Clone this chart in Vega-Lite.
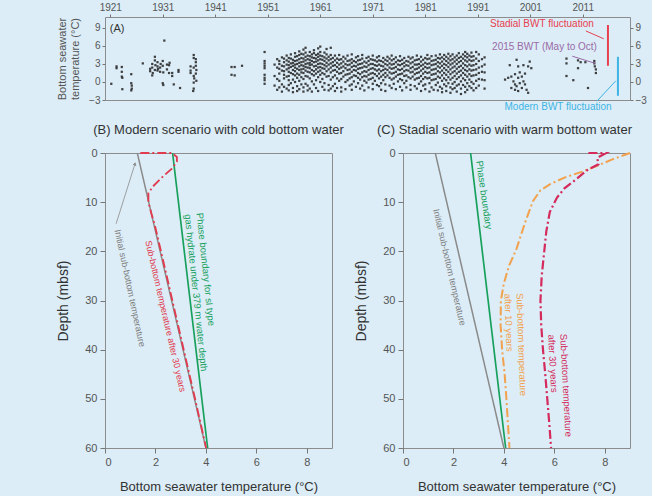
{
"$schema": "https://vega.github.io/schema/vega-lite/v6.json",
"background": "#dcedf7",
"padding": {"left": 56, "top": 1, "right": 5, "bottom": 2},
"config": {
 "font": "Liberation Sans",
 "view": {"stroke": "#8c8c8c", "strokeWidth": 1},
 "axis": {"labelFont": "Liberation Sans", "titleFont": "Liberation Sans", "labelColor": "#555", "tickColor": "#777", "domainColor": "#8c8c8c", "grid": false, "titleFontWeight": "normal", "titleColor": "#333"},
 "title": {"font": "Liberation Sans", "fontWeight": "normal", "color": "#333"}
},
"datasets": {
 "pts": [
{"yr":1921.2,"t":-0.3},{"yr":1922.2,"t":2.6},{"yr":1922.2,"t":2.3},{"yr":1923.2,"t":2.5},{"yr":1923.2,"t":1.7},{"yr":1923.2,"t":0.9},{"yr":1923.3,"t":0.7},{"yr":1923.3,"t":-1.2},{"yr":1925.0,"t":1.3},{"yr":1925.0,"t":-0.2},{"yr":1925.1,"t":-0.6},{"yr":1925.1,"t":-1.1},{"yr":1925.0,"t":-1.4},{"yr":1927.2,"t":3.1},{"yr":1928.6,"t":2.2},{"yr":1928.6,"t":1.8},{"yr":1929.0,"t":3.0},{"yr":1929.0,"t":2.4},{"yr":1929.1,"t":1.5},{"yr":1929.0,"t":1.1},{"yr":1929.5,"t":4.2},{"yr":1929.5,"t":3.6},{"yr":1929.6,"t":2.8},{"yr":1929.5,"t":2.0},{"yr":1930.0,"t":2.6},{"yr":1930.1,"t":2.2},{"yr":1930.0,"t":1.9},{"yr":1930.0,"t":3.3},{"yr":1930.5,"t":2.4},{"yr":1930.5,"t":1.7},{"yr":1930.6,"t":3.0},{"yr":1931.0,"t":3.5},{"yr":1931.0,"t":2.7},{"yr":1931.1,"t":1.6},{"yr":1931.0,"t":-0.2},{"yr":1931.1,"t":-0.5},{"yr":1931.3,"t":6.9},{"yr":1931.8,"t":2.9},{"yr":1931.8,"t":2.1},{"yr":1932.2,"t":1.5},{"yr":1932.2,"t":2.8},{"yr":1932.3,"t":3.2},{"yr":1932.8,"t":1.5},{"yr":1932.8,"t":1.0},{"yr":1933.1,"t":-0.4},{"yr":1934.0,"t":2.0},{"yr":1934.0,"t":1.7},{"yr":1934.3,"t":-1.0},{"yr":1936.3,"t":2.6},{"yr":1936.3,"t":1.9},{"yr":1936.3,"t":1.5},{"yr":1936.9,"t":4.5},{"yr":1936.9,"t":4.0},{"yr":1936.9,"t":2.4},{"yr":1936.9,"t":1.0},{"yr":1937.0,"t":0.6},{"yr":1936.9,"t":-0.1},{"yr":1936.9,"t":-1.1},{"yr":1936.8,"t":-1.5},{"yr":1937.3,"t":3.8},{"yr":1937.3,"t":3.3},{"yr":1937.3,"t":2.7},{"yr":1937.4,"t":2.0},{"yr":1937.3,"t":1.4},{"yr":1937.4,"t":0.2},{"yr":1944.1,"t":2.5},{"yr":1944.1,"t":1.2},{"yr":1944.7,"t":2.5},{"yr":1944.7,"t":1.1},{"yr":1946.1,"t":2.7},
{"yr":1950.4,"t":5.0},{"yr":1950.4,"t":3.5},{"yr":1950.4,"t":3.1},{"yr":1950.4,"t":2.7},{"yr":1950.4,"t":2.3},{"yr":1950.4,"t":1.2},{"yr":1950.4,"t":0.7},{"yr":1950.4,"t":0.3},{"yr":1950.4,"t":-0.3},
{"yr":1952.3,"t":2.9},{"yr":1952.3,"t":1.0},{"yr":1952.3,"t":-0.6},{"yr":1952.8,"t":3.8},{"yr":1952.8,"t":2.4},{"yr":1952.8,"t":0.5},{"yr":1952.8,"t":-1.3},
{"yr":1953.2,"t":3.5},{"yr":1953.2,"t":3.0},{"yr":1953.2,"t":2.2},{"yr":1953.2,"t":1.4},{"yr":1953.2,"t":0.2},{"yr":1953.2,"t":-0.9},
{"yr":1953.7,"t":4.1},{"yr":1953.7,"t":2.7},{"yr":1953.7,"t":1.9},{"yr":1953.7,"t":-0.4},{"yr":1953.7,"t":-1.6},
{"yr":1954.1,"t":3.9},{"yr":1954.1,"t":3.3},{"yr":1954.1,"t":2.6},{"yr":1954.1,"t":1.8},{"yr":1954.1,"t":1.2},{"yr":1954.1,"t":0.6},{"yr":1954.1,"t":-0.8},
{"yr":1954.6,"t":4.4},{"yr":1954.6,"t":3.6},{"yr":1954.6,"t":2.9},{"yr":1954.6,"t":2.1},{"yr":1954.6,"t":0.9},{"yr":1954.6,"t":-1.1},
{"yr":1955.0,"t":4.0},{"yr":1955.0,"t":3.4},{"yr":1955.0,"t":2.8},{"yr":1955.0,"t":2.3},{"yr":1955.0,"t":1.7},{"yr":1955.0,"t":1.0},{"yr":1955.0,"t":0.3},{"yr":1955.0,"t":-0.5},{"yr":1955.0,"t":-1.4},
{"yr":1955.4,"t":4.6},{"yr":1955.4,"t":3.9},{"yr":1955.4,"t":3.1},{"yr":1955.4,"t":2.5},{"yr":1955.4,"t":1.5},{"yr":1955.4,"t":-0.2},
{"yr":1955.8,"t":3.7},{"yr":1955.8,"t":3.2},{"yr":1955.8,"t":2.7},{"yr":1955.8,"t":2.0},{"yr":1955.8,"t":1.3},{"yr":1955.8,"t":0.4},{"yr":1955.8,"t":-1.0},{"yr":1955.8,"t":-1.7},
{"yr":1956.2,"t":4.8},{"yr":1956.2,"t":4.2},{"yr":1956.2,"t":3.5},{"yr":1956.2,"t":2.9},{"yr":1956.2,"t":2.4},{"yr":1956.2,"t":1.8},{"yr":1956.2,"t":1.1},{"yr":1956.2,"t":0.0},
{"yr":1956.6,"t":4.3},{"yr":1956.6,"t":3.6},{"yr":1956.6,"t":3.0},{"yr":1956.6,"t":2.2},{"yr":1956.6,"t":1.4},{"yr":1956.6,"t":0.7},{"yr":1956.6,"t":-0.7},{"yr":1956.6,"t":-1.5},
{"yr":1957.0,"t":5.1},{"yr":1957.0,"t":4.5},{"yr":1957.0,"t":3.8},{"yr":1957.0,"t":3.2},{"yr":1957.0,"t":2.6},{"yr":1957.0,"t":2.0},{"yr":1957.0,"t":1.2},{"yr":1957.0,"t":0.2},{"yr":1957.0,"t":-1.2},
{"yr":1957.4,"t":4.7},{"yr":1957.4,"t":4.0},{"yr":1957.4,"t":3.3},{"yr":1957.4,"t":2.8},{"yr":1957.4,"t":2.1},{"yr":1957.4,"t":1.6},{"yr":1957.4,"t":0.8},{"yr":1957.4,"t":-0.4},
{"yr":1957.8,"t":5.4},{"yr":1957.8,"t":4.6},{"yr":1957.8,"t":3.9},{"yr":1957.8,"t":3.4},{"yr":1957.8,"t":2.7},{"yr":1957.8,"t":2.2},{"yr":1957.8,"t":1.5},{"yr":1957.8,"t":0.5},{"yr":1957.8,"t":-0.9},{"yr":1957.8,"t":-1.6},
{"yr":1958.2,"t":5.7},{"yr":1958.2,"t":4.9},{"yr":1958.2,"t":4.2},{"yr":1958.2,"t":3.6},{"yr":1958.2,"t":3.0},{"yr":1958.2,"t":2.5},{"yr":1958.2,"t":1.9},{"yr":1958.2,"t":1.0},{"yr":1958.2,"t":-0.3},
{"yr":1958.6,"t":4.4},{"yr":1958.6,"t":3.8},{"yr":1958.6,"t":3.1},{"yr":1958.6,"t":2.4},{"yr":1958.6,"t":1.7},{"yr":1958.6,"t":0.9},{"yr":1958.6,"t":-0.6},{"yr":1958.6,"t":-1.4},
{"yr":1959.0,"t":5.0},{"yr":1959.0,"t":4.3},{"yr":1959.0,"t":3.7},{"yr":1959.0,"t":3.2},{"yr":1959.0,"t":2.8},{"yr":1959.0,"t":2.3},{"yr":1959.0,"t":1.6},{"yr":1959.0,"t":0.6},{"yr":1959.0,"t":-1.1},
{"yr":1959.4,"t":4.6},{"yr":1959.4,"t":4.1},{"yr":1959.4,"t":3.5},{"yr":1959.4,"t":2.9},{"yr":1959.4,"t":2.0},{"yr":1959.4,"t":1.3},{"yr":1959.4,"t":0.1},{"yr":1959.4,"t":-1.6},
{"yr":1959.8,"t":5.3},{"yr":1959.8,"t":4.8},{"yr":1959.8,"t":4.0},{"yr":1959.8,"t":3.3},{"yr":1959.8,"t":2.6},{"yr":1959.8,"t":1.8},{"yr":1959.8,"t":1.1},{"yr":1959.8,"t":-0.4},
{"yr":1960.2,"t":4.5},{"yr":1960.2,"t":3.9},{"yr":1960.2,"t":3.4},{"yr":1960.2,"t":2.7},{"yr":1960.2,"t":2.1},{"yr":1960.2,"t":1.4},{"yr":1960.2,"t":0.3},{"yr":1960.2,"t":-1.0},
{"yr":1960.6,"t":5.6},{"yr":1960.6,"t":4.7},{"yr":1960.6,"t":4.2},{"yr":1960.6,"t":3.6},{"yr":1960.6,"t":3.0},{"yr":1960.6,"t":2.4},{"yr":1960.6,"t":1.7},{"yr":1960.6,"t":0.8},{"yr":1960.6,"t":-1.5},
{"yr":1961.0,"t":5.9},{"yr":1961.0,"t":5.0},{"yr":1961.0,"t":4.4},{"yr":1961.0,"t":3.8},{"yr":1961.0,"t":3.1},{"yr":1961.0,"t":2.5},{"yr":1961.0,"t":1.9},{"yr":1961.0,"t":1.2},{"yr":1961.0,"t":0.0},
{"yr":1961.4,"t":4.3},{"yr":1961.4,"t":3.7},{"yr":1961.4,"t":3.0},{"yr":1961.4,"t":2.3},{"yr":1961.4,"t":1.5},{"yr":1961.4,"t":0.5},{"yr":1961.4,"t":-0.8},
{"yr":1961.8,"t":4.9},{"yr":1961.8,"t":4.1},{"yr":1961.8,"t":3.5},{"yr":1961.8,"t":2.8},{"yr":1961.8,"t":2.2},{"yr":1961.8,"t":1.3},{"yr":1961.8,"t":-0.2},{"yr":1961.8,"t":-1.3},
{"yr":1962.2,"t":5.5},{"yr":1962.2,"t":4.6},{"yr":1962.2,"t":3.9},{"yr":1962.2,"t":3.2},{"yr":1962.2,"t":2.6},{"yr":1962.2,"t":1.8},{"yr":1962.2,"t":0.9},
{"yr":1962.6,"t":4.2},{"yr":1962.6,"t":3.6},{"yr":1962.6,"t":2.9},{"yr":1962.6,"t":2.1},{"yr":1962.6,"t":1.0},{"yr":1962.6,"t":-0.5},{"yr":1962.6,"t":-1.4},
{"yr":1963.0,"t":5.7},{"yr":1963.0,"t":4.5},{"yr":1963.0,"t":3.8},{"yr":1963.0,"t":3.1},{"yr":1963.0,"t":2.4},{"yr":1963.0,"t":1.6},{"yr":1963.0,"t":0.4},{"yr":1963.0,"t":-1.1},
{"yr":1963.4,"t":4.0},{"yr":1963.4,"t":3.3},{"yr":1963.4,"t":2.7},{"yr":1963.4,"t":1.9},{"yr":1963.4,"t":0.8},{"yr":1963.4,"t":-0.7},
{"yr":1963.8,"t":4.4},{"yr":1963.8,"t":3.6},{"yr":1963.8,"t":2.8},{"yr":1963.8,"t":2.0},{"yr":1963.8,"t":1.1},{"yr":1963.8,"t":-0.3},{"yr":1963.8,"t":-1.5},
{"yr":1964.2,"t":3.9},{"yr":1964.2,"t":3.2},{"yr":1964.2,"t":2.5},{"yr":1964.2,"t":1.7},{"yr":1964.2,"t":0.6},{"yr":1964.2,"t":-1.0},
{"yr":1964.6,"t":4.5},{"yr":1964.6,"t":3.7},{"yr":1964.6,"t":2.9},{"yr":1964.6,"t":2.2},{"yr":1964.6,"t":1.4},{"yr":1964.6,"t":0.2},
{"yr":1965.0,"t":3.8},{"yr":1965.0,"t":3.1},{"yr":1965.0,"t":2.4},{"yr":1965.0,"t":1.5},{"yr":1965.0,"t":0.5},{"yr":1965.0,"t":-0.9},{"yr":1965.0,"t":-1.6},
{"yr":1965.4,"t":4.2},{"yr":1965.4,"t":3.4},{"yr":1965.4,"t":2.6},{"yr":1965.4,"t":1.8},{"yr":1965.4,"t":0.9},
{"yr":1965.8,"t":3.9},{"yr":1965.8,"t":3.0},{"yr":1965.8,"t":2.3},{"yr":1965.8,"t":1.2},{"yr":1965.8,"t":0.0},{"yr":1965.8,"t":-1.2},
{"yr":1966.2,"t":4.4},{"yr":1966.2,"t":3.5},{"yr":1966.2,"t":2.8},{"yr":1966.2,"t":2.0},{"yr":1966.2,"t":1.3},{"yr":1966.2,"t":0.3},
{"yr":1966.6,"t":3.6},{"yr":1966.6,"t":2.9},{"yr":1966.6,"t":2.1},{"yr":1966.6,"t":1.4},{"yr":1966.6,"t":0.6},{"yr":1966.6,"t":-0.6},
{"yr":1967.0,"t":4.6},{"yr":1967.0,"t":3.8},{"yr":1967.0,"t":3.2},{"yr":1967.0,"t":2.5},{"yr":1967.0,"t":1.7},{"yr":1967.0,"t":0.8},{"yr":1967.0,"t":-0.4},{"yr":1967.0,"t":-1.3},
{"yr":1967.4,"t":3.5},{"yr":1967.4,"t":2.7},{"yr":1967.4,"t":2.0},{"yr":1967.4,"t":1.1},{"yr":1967.4,"t":0.1},
{"yr":1967.8,"t":4.1},{"yr":1967.8,"t":3.3},{"yr":1967.8,"t":2.6},{"yr":1967.8,"t":1.9},{"yr":1967.8,"t":1.0},{"yr":1967.8,"t":-0.8},
{"yr":1968.2,"t":4.3},{"yr":1968.2,"t":3.6},{"yr":1968.2,"t":2.9},{"yr":1968.2,"t":2.2},{"yr":1968.2,"t":1.5},{"yr":1968.2,"t":0.7},{"yr":1968.2,"t":-0.2},
{"yr":1968.6,"t":3.7},{"yr":1968.6,"t":3.0},{"yr":1968.6,"t":2.3},{"yr":1968.6,"t":1.3},{"yr":1968.6,"t":0.4},{"yr":1968.6,"t":-1.1},
{"yr":1969.0,"t":4.5},{"yr":1969.0,"t":3.9},{"yr":1969.0,"t":3.1},{"yr":1969.0,"t":2.4},{"yr":1969.0,"t":1.6},{"yr":1969.0,"t":0.8},{"yr":1969.0,"t":-0.6},
{"yr":1969.4,"t":3.4},{"yr":1969.4,"t":2.6},{"yr":1969.4,"t":1.8},{"yr":1969.4,"t":1.0},{"yr":1969.4,"t":0.2},{"yr":1969.4,"t":-1.4},
{"yr":1969.8,"t":4.0},{"yr":1969.8,"t":3.2},{"yr":1969.8,"t":2.5},{"yr":1969.8,"t":1.7},{"yr":1969.8,"t":0.9},{"yr":1969.8,"t":-0.1},
{"yr":1970.2,"t":4.2},{"yr":1970.2,"t":3.5},{"yr":1970.2,"t":2.8},{"yr":1970.2,"t":2.0},{"yr":1970.2,"t":1.2},{"yr":1970.2,"t":0.4},{"yr":1970.2,"t":-0.9},
{"yr":1970.6,"t":3.8},{"yr":1970.6,"t":3.0},{"yr":1970.6,"t":2.2},{"yr":1970.6,"t":1.4},{"yr":1970.6,"t":0.5},
{"yr":1971.0,"t":4.4},{"yr":1971.0,"t":3.7},{"yr":1971.0,"t":3.0},{"yr":1971.0,"t":2.3},{"yr":1971.0,"t":1.5},{"yr":1971.0,"t":0.7},{"yr":1971.0,"t":-0.3},{"yr":1971.0,"t":-1.2},
{"yr":1971.4,"t":3.6},{"yr":1971.4,"t":2.8},{"yr":1971.4,"t":2.1},{"yr":1971.4,"t":1.3},{"yr":1971.4,"t":0.2},
{"yr":1971.8,"t":4.1},{"yr":1971.8,"t":3.4},{"yr":1971.8,"t":2.7},{"yr":1971.8,"t":1.9},{"yr":1971.8,"t":1.0},{"yr":1971.8,"t":-0.5},
{"yr":1972.2,"t":4.3},{"yr":1972.2,"t":3.6},{"yr":1972.2,"t":2.9},{"yr":1972.2,"t":2.1},{"yr":1972.2,"t":1.4},{"yr":1972.2,"t":0.6},{"yr":1972.2,"t":-0.7},
{"yr":1972.6,"t":3.5},{"yr":1972.6,"t":2.7},{"yr":1972.6,"t":1.8},{"yr":1972.6,"t":0.9},{"yr":1972.6,"t":-0.2},{"yr":1972.6,"t":-1.3},
{"yr":1973.0,"t":4.0},{"yr":1973.0,"t":3.3},{"yr":1973.0,"t":2.6},{"yr":1973.0,"t":2.0},{"yr":1973.0,"t":1.2},{"yr":1973.0,"t":0.3},
{"yr":1973.4,"t":3.7},{"yr":1973.4,"t":3.0},{"yr":1973.4,"t":2.2},{"yr":1973.4,"t":1.5},{"yr":1973.4,"t":0.8},{"yr":1973.4,"t":-0.4},{"yr":1973.4,"t":-1.5},
{"yr":1973.8,"t":4.2},{"yr":1973.8,"t":3.5},{"yr":1973.8,"t":2.8},{"yr":1973.8,"t":2.0},{"yr":1973.8,"t":1.1},
{"yr":1974.2,"t":3.9},{"yr":1974.2,"t":3.1},{"yr":1974.2,"t":2.4},{"yr":1974.2,"t":1.6},{"yr":1974.2,"t":0.7},{"yr":1974.2,"t":-0.6},
{"yr":1974.6,"t":4.4},{"yr":1974.6,"t":3.6},{"yr":1974.6,"t":2.9},{"yr":1974.6,"t":2.2},{"yr":1974.6,"t":1.4},{"yr":1974.6,"t":0.4},{"yr":1974.6,"t":-1.0},
{"yr":1975.0,"t":3.8},{"yr":1975.0,"t":3.0},{"yr":1975.0,"t":2.3},{"yr":1975.0,"t":1.5},{"yr":1975.0,"t":0.6},{"yr":1975.0,"t":-0.3},
{"yr":1975.4,"t":4.1},{"yr":1975.4,"t":3.3},{"yr":1975.4,"t":2.5},{"yr":1975.4,"t":1.7},{"yr":1975.4,"t":0.9},{"yr":1975.4,"t":-1.2},
{"yr":1975.8,"t":3.6},{"yr":1975.8,"t":2.9},{"yr":1975.8,"t":2.1},{"yr":1975.8,"t":1.2},{"yr":1975.8,"t":0.1},
{"yr":1976.2,"t":4.3},{"yr":1976.2,"t":3.5},{"yr":1976.2,"t":2.8},{"yr":1976.2,"t":2.0},{"yr":1976.2,"t":1.3},{"yr":1976.2,"t":0.5},{"yr":1976.2,"t":-0.8},
{"yr":1976.6,"t":3.7},{"yr":1976.6,"t":3.0},{"yr":1976.6,"t":2.2},{"yr":1976.6,"t":1.4},{"yr":1976.6,"t":0.3},{"yr":1976.6,"t":-1.4},
{"yr":1977.0,"t":4.0},{"yr":1977.0,"t":3.2},{"yr":1977.0,"t":2.6},{"yr":1977.0,"t":1.8},{"yr":1977.0,"t":1.0},{"yr":1977.0,"t":-0.2},
{"yr":1977.4,"t":3.5},{"yr":1977.4,"t":2.8},{"yr":1977.4,"t":2.0},{"yr":1977.4,"t":1.1},{"yr":1977.4,"t":0.2},{"yr":1977.4,"t":-0.9},
{"yr":1977.8,"t":4.2},{"yr":1977.8,"t":3.4},{"yr":1977.8,"t":2.7},{"yr":1977.8,"t":1.9},{"yr":1977.8,"t":0.8},
{"yr":1978.2,"t":3.9},{"yr":1978.2,"t":3.1},{"yr":1978.2,"t":2.3},{"yr":1978.2,"t":1.6},{"yr":1978.2,"t":0.6},{"yr":1978.2,"t":-0.5},{"yr":1978.2,"t":-1.3},
{"yr":1978.6,"t":4.1},{"yr":1978.6,"t":3.3},{"yr":1978.6,"t":2.5},{"yr":1978.6,"t":1.7},{"yr":1978.6,"t":0.9},
{"yr":1979.0,"t":3.6},{"yr":1979.0,"t":2.9},{"yr":1979.0,"t":2.1},{"yr":1979.0,"t":1.3},{"yr":1979.0,"t":0.4},{"yr":1979.0,"t":-0.7},
{"yr":1979.4,"t":4.4},{"yr":1979.4,"t":3.7},{"yr":1979.4,"t":2.9},{"yr":1979.4,"t":2.2},{"yr":1979.4,"t":1.5},{"yr":1979.4,"t":0.6},{"yr":1979.4,"t":-1.1},
{"yr":1979.8,"t":3.8},{"yr":1979.8,"t":3.0},{"yr":1979.8,"t":2.4},{"yr":1979.8,"t":1.6},{"yr":1979.8,"t":0.7},{"yr":1979.8,"t":-0.3},
{"yr":1980.2,"t":4.2},{"yr":1980.2,"t":3.4},{"yr":1980.2,"t":2.7},{"yr":1980.2,"t":1.9},{"yr":1980.2,"t":1.0},{"yr":1980.2,"t":0.1},{"yr":1980.2,"t":-1.5},
{"yr":1980.6,"t":3.7},{"yr":1980.6,"t":2.9},{"yr":1980.6,"t":2.2},{"yr":1980.6,"t":1.4},{"yr":1980.6,"t":0.5},{"yr":1980.6,"t":-0.6},
{"yr":1981.0,"t":4.0},{"yr":1981.0,"t":3.2},{"yr":1981.0,"t":2.5},{"yr":1981.0,"t":1.7},{"yr":1981.0,"t":0.8},{"yr":1981.0,"t":-0.4},{"yr":1981.0,"t":-1.2},
{"yr":1981.4,"t":4.5},{"yr":1981.4,"t":3.8},{"yr":1981.4,"t":3.0},{"yr":1981.4,"t":2.3},{"yr":1981.4,"t":1.5},{"yr":1981.4,"t":0.6},
{"yr":1981.8,"t":3.9},{"yr":1981.8,"t":3.1},{"yr":1981.8,"t":2.4},{"yr":1981.8,"t":1.6},{"yr":1981.8,"t":0.7},{"yr":1981.8,"t":-0.2},{"yr":1981.8,"t":-1.6},
{"yr":1982.2,"t":4.3},{"yr":1982.2,"t":3.5},{"yr":1982.2,"t":2.8},{"yr":1982.2,"t":2.0},{"yr":1982.2,"t":1.2},{"yr":1982.2,"t":0.3},{"yr":1982.2,"t":-0.9},
{"yr":1982.6,"t":3.6},{"yr":1982.6,"t":2.9},{"yr":1982.6,"t":2.1},{"yr":1982.6,"t":1.3},{"yr":1982.6,"t":0.4},{"yr":1982.6,"t":-1.3},
{"yr":1983.0,"t":4.4},{"yr":1983.0,"t":3.7},{"yr":1983.0,"t":3.0},{"yr":1983.0,"t":2.2},{"yr":1983.0,"t":1.4},{"yr":1983.0,"t":0.5},{"yr":1983.0,"t":-0.5},
{"yr":1983.4,"t":4.0},{"yr":1983.4,"t":3.3},{"yr":1983.4,"t":2.6},{"yr":1983.4,"t":1.8},{"yr":1983.4,"t":0.9},{"yr":1983.4,"t":-0.1},{"yr":1983.4,"t":-1.4},
{"yr":1983.8,"t":4.6},{"yr":1983.8,"t":3.9},{"yr":1983.8,"t":3.1},{"yr":1983.8,"t":2.4},{"yr":1983.8,"t":1.6},{"yr":1983.8,"t":0.7},{"yr":1983.8,"t":-0.8},
{"yr":1984.2,"t":4.1},{"yr":1984.2,"t":3.4},{"yr":1984.2,"t":2.7},{"yr":1984.2,"t":1.9},{"yr":1984.2,"t":1.1},{"yr":1984.2,"t":0.2},{"yr":1984.2,"t":-1.1},{"yr":1984.2,"t":-1.7},
{"yr":1984.6,"t":4.5},{"yr":1984.6,"t":3.8},{"yr":1984.6,"t":3.0},{"yr":1984.6,"t":2.3},{"yr":1984.6,"t":1.5},{"yr":1984.6,"t":0.6},{"yr":1984.6,"t":-0.4},
{"yr":1985.0,"t":4.2},{"yr":1985.0,"t":3.5},{"yr":1985.0,"t":2.8},{"yr":1985.0,"t":2.0},{"yr":1985.0,"t":1.2},{"yr":1985.0,"t":0.3},{"yr":1985.0,"t":-0.7},{"yr":1985.0,"t":-1.5},
{"yr":1985.4,"t":4.7},{"yr":1985.4,"t":3.9},{"yr":1985.4,"t":3.2},{"yr":1985.4,"t":2.5},{"yr":1985.4,"t":1.7},{"yr":1985.4,"t":0.8},{"yr":1985.4,"t":-0.2},
{"yr":1985.8,"t":4.3},{"yr":1985.8,"t":3.6},{"yr":1985.8,"t":2.9},{"yr":1985.8,"t":2.1},{"yr":1985.8,"t":1.3},{"yr":1985.8,"t":0.4},{"yr":1985.8,"t":-0.9},{"yr":1985.8,"t":-1.8},
{"yr":1986.2,"t":4.6},{"yr":1986.2,"t":3.8},{"yr":1986.2,"t":3.1},{"yr":1986.2,"t":2.4},{"yr":1986.2,"t":1.6},{"yr":1986.2,"t":0.7},{"yr":1986.2,"t":-0.3},{"yr":1986.2,"t":-1.2},
{"yr":1986.6,"t":4.1},{"yr":1986.6,"t":3.4},{"yr":1986.6,"t":2.6},{"yr":1986.6,"t":1.8},{"yr":1986.6,"t":1.0},{"yr":1986.6,"t":0.0},{"yr":1986.6,"t":-1.0},
{"yr":1987.0,"t":4.4},{"yr":1987.0,"t":3.7},{"yr":1987.0,"t":3.0},{"yr":1987.0,"t":2.2},{"yr":1987.0,"t":1.4},{"yr":1987.0,"t":0.5},{"yr":1987.0,"t":-0.6},{"yr":1987.0,"t":-1.6},
{"yr":1987.4,"t":4.8},{"yr":1987.4,"t":4.0},{"yr":1987.4,"t":3.3},{"yr":1987.4,"t":2.5},{"yr":1987.4,"t":1.7},{"yr":1987.4,"t":0.8},{"yr":1987.4,"t":-0.4},
{"yr":1987.8,"t":4.2},{"yr":1987.8,"t":3.5},{"yr":1987.8,"t":2.7},{"yr":1987.8,"t":1.9},{"yr":1987.8,"t":1.1},{"yr":1987.8,"t":0.1},{"yr":1987.8,"t":-1.1},{"yr":1987.8,"t":-2.0},
{"yr":1988.2,"t":4.6},{"yr":1988.2,"t":3.9},{"yr":1988.2,"t":3.1},{"yr":1988.2,"t":2.3},{"yr":1988.2,"t":1.5},{"yr":1988.2,"t":0.6},{"yr":1988.2,"t":-0.5},
{"yr":1988.6,"t":5.0},{"yr":1988.6,"t":4.3},{"yr":1988.6,"t":3.6},{"yr":1988.6,"t":2.8},{"yr":1988.6,"t":2.0},{"yr":1988.6,"t":1.2},{"yr":1988.6,"t":0.3},{"yr":1988.6,"t":-0.8},{"yr":1988.6,"t":-1.7},
{"yr":1989.0,"t":4.7},{"yr":1989.0,"t":4.1},{"yr":1989.0,"t":3.4},{"yr":1989.0,"t":2.6},{"yr":1989.0,"t":1.8},{"yr":1989.0,"t":0.9},{"yr":1989.0,"t":-0.2},{"yr":1989.0,"t":-1.3},
{"yr":1989.4,"t":4.4},{"yr":1989.4,"t":3.7},{"yr":1989.4,"t":2.9},{"yr":1989.4,"t":2.1},{"yr":1989.4,"t":1.3},{"yr":1989.4,"t":0.4},{"yr":1989.4,"t":-0.7},
{"yr":1989.8,"t":4.9},{"yr":1989.8,"t":4.2},{"yr":1989.8,"t":3.5},{"yr":1989.8,"t":2.7},{"yr":1989.8,"t":1.9},{"yr":1989.8,"t":1.0},{"yr":1989.8,"t":0.0},{"yr":1989.8,"t":-1.0},
{"yr":1990.2,"t":4.3},{"yr":1990.2,"t":3.6},{"yr":1990.2,"t":2.8},{"yr":1990.2,"t":2.0},{"yr":1990.2,"t":1.1},{"yr":1990.2,"t":-0.3},{"yr":1990.2,"t":-1.4},
{"yr":1990.7,"t":5.0},{"yr":1990.7,"t":3.9},{"yr":1990.7,"t":3.0},{"yr":1990.7,"t":2.1},{"yr":1990.7,"t":1.2},{"yr":1990.7,"t":0.2},{"yr":1990.7,"t":-1.0},
{"yr":1991.2,"t":4.6},{"yr":1991.2,"t":3.5},{"yr":1991.2,"t":2.4},{"yr":1991.2,"t":1.5},{"yr":1991.2,"t":0.5},{"yr":1991.2,"t":-0.6},
{"yr":1991.8,"t":3.8},{"yr":1991.8,"t":2.6},{"yr":1991.8,"t":1.7},{"yr":1991.8,"t":0.4},
{"yr":1992.3,"t":4.1},{"yr":1992.3,"t":2.9},{"yr":1992.3,"t":1.6},{"yr":1992.3,"t":0.3},{"yr":1992.3,"t":-1.1},
{"yr":1998.4,"t":3.7},{"yr":1997.1,"t":2.8},{"yr":1998.7,"t":2.6},{"yr":1999.7,"t":2.8},{"yr":2000.9,"t":3.4},{"yr":2000.6,"t":2.6},{"yr":2001.2,"t":2.3},{"yr":1996.2,"t":0.4},{"yr":1996.8,"t":0.7},{"yr":1997.4,"t":0.9},{"yr":1997.8,"t":0.1},{"yr":1998.1,"t":-0.4},{"yr":1998.4,"t":-0.7},{"yr":1998.7,"t":0.7},{"yr":1999.0,"t":-0.2},{"yr":1999.4,"t":-1.0},{"yr":1999.7,"t":0.1},{"yr":2000.0,"t":-0.4},{"yr":2000.3,"t":-1.3},{"yr":2000.6,"t":-1.8},{"yr":1997.4,"t":-1.0},{"yr":1998.1,"t":-1.3},{"yr":1998.7,"t":-1.5},{"yr":1999.4,"t":0.9},{"yr":2000.0,"t":1.4},{"yr":1998.1,"t":1.3},{"yr":1999.0,"t":1.6},
{"yr":2007.9,"t":3.9},{"yr":2007.9,"t":3.1},{"yr":2007.9,"t":1.0},{"yr":2009.2,"t":0.3},{"yr":2010.1,"t":3.6},{"yr":2010.1,"t":2.3},{"yr":2010.6,"t":3.3},{"yr":2011.5,"t":3.3},{"yr":2012.0,"t":-1.0},{"yr":2013.2,"t":3.1},{"yr":2013.3,"t":2.6},{"yr":2013.5,"t":2.1},{"yr":2013.5,"t":1.5},{"yr":2013.2,"t":3.5}
 ],
 "lineB": [
  {"s":"init","o":1,"temp":1.28,"depth":0},{"s":"init","o":2,"temp":4.0,"depth":60},
  {"s":"phase","o":1,"temp":2.68,"depth":0},{"s":"phase","o":2,"temp":4.07,"depth":60},
  {"s":"r30","o":1,"temp":1.4,"depth":0},{"s":"r30","o":2,"temp":2.65,"depth":0},{"s":"r30","o":3,"temp":2.85,"depth":0.8},{"s":"r30","o":4,"temp":2.85,"depth":1.8},{"s":"r30","o":5,"temp":2.65,"depth":3.2},{"s":"r30","o":6,"temp":2.25,"depth":5},{"s":"r30","o":7,"temp":1.9,"depth":6.8},{"s":"r30","o":8,"temp":1.72,"depth":8.2},{"s":"r30","o":9,"temp":1.72,"depth":10},{"s":"r30","o":10,"temp":1.85,"depth":12.5},{"s":"r30","o":11,"temp":1.99,"depth":15},{"s":"r30","o":12,"temp":2.22,"depth":20},{"s":"r30","o":13,"temp":2.67,"depth":30},{"s":"r30","o":14,"temp":3.12,"depth":40},{"s":"r30","o":15,"temp":3.57,"depth":50},{"s":"r30","o":16,"temp":4.01,"depth":60}
 ],
 "lineC": [
  {"s":"init","o":1,"temp":1.28,"depth":0},{"s":"init","o":2,"temp":4.0,"depth":60},
  {"s":"phase","o":1,"temp":2.68,"depth":0},{"s":"phase","o":2,"temp":4.07,"depth":60},
  {"s":"o10","o":1,"temp":9.0,"depth":0},{"s":"o10","o":2,"temp":8.3,"depth":1.3},{"s":"o10","o":3,"temp":7.7,"depth":2.6},{"s":"o10","o":4,"temp":7.1,"depth":3.8},{"s":"o10","o":5,"temp":6.4,"depth":5.0},{"s":"o10","o":6,"temp":5.85,"depth":6.3},{"s":"o10","o":7,"temp":5.45,"depth":7.6},{"s":"o10","o":8,"temp":5.15,"depth":9.8},{"s":"o10","o":9,"temp":4.85,"depth":14},{"s":"o10","o":10,"temp":4.5,"depth":19.5},{"s":"o10","o":11,"temp":4.2,"depth":23},{"s":"o10","o":12,"temp":4.0,"depth":26.5},{"s":"o10","o":13,"temp":3.88,"depth":30},{"s":"o10","o":14,"temp":3.87,"depth":35},{"s":"o10","o":15,"temp":3.93,"depth":40},{"s":"o10","o":16,"temp":4.03,"depth":45},{"s":"o10","o":17,"temp":4.1,"depth":50},{"s":"o10","o":18,"temp":4.16,"depth":55},{"s":"o10","o":19,"temp":4.22,"depth":60},
  {"s":"m30","o":1,"temp":7.35,"depth":0},{"s":"m30","o":2,"temp":8.05,"depth":0},{"s":"m30","o":3,"temp":7.7,"depth":1.0},{"s":"m30","o":4,"temp":7.75,"depth":2.3},{"s":"m30","o":5,"temp":7.3,"depth":3.5},{"s":"m30","o":6,"temp":6.9,"depth":5.2},{"s":"m30","o":7,"temp":6.4,"depth":7.2},{"s":"m30","o":8,"temp":6.1,"depth":9.1},{"s":"m30","o":9,"temp":5.82,"depth":12},{"s":"m30","o":10,"temp":5.68,"depth":16},{"s":"m30","o":11,"temp":5.6,"depth":20},{"s":"m30","o":12,"temp":5.5,"depth":25},{"s":"m30","o":13,"temp":5.45,"depth":30},{"s":"m30","o":14,"temp":5.48,"depth":35},{"s":"m30","o":15,"temp":5.55,"depth":40},{"s":"m30","o":16,"temp":5.64,"depth":45},{"s":"m30","o":17,"temp":5.72,"depth":50},{"s":"m30","o":18,"temp":5.8,"depth":55},{"s":"m30","o":19,"temp":5.87,"depth":60}
 ]
},
"bounds": "flush",
"spacing": 53,
"vconcat": [
 {
  "width": 525, "height": 83,
  "layer": [
   {"data": {"name": "pts"},
    "mark": {"type": "point", "shape": "square", "filled": true, "size": 5, "color": "#2a2a2a", "opacity": 0.9},
    "encoding": {
     "x": {"field": "yr", "type": "quantitative", "scale": {"domain": [1920, 2020], "nice": false, "zero": false},
       "axis": {"orient": "top", "values": [1921,1931,1941,1951,1961,1971,1981,1991,2001,2011], "format": "d", "title": null, "labelFontSize": 10, "tickSize": 3, "labelPadding": 2, "domain": false}},
     "y": {"field": "t", "type": "quantitative", "scale": {"domain": [-3, 10.83], "nice": false, "zero": false},
       "axis": {"orient": "left", "values": [-3,0,3,6,9], "title": ["Bottom seawater", "temperature (°C)"], "titleFontSize": 11, "titleColor": "#555", "titlePadding": 8, "labelFontSize": 10, "tickSize": 3, "labelPadding": 2, "domain": false}}
    }},
   {"data": {"values": [{"yr": 2015.8, "t": 9.5, "t2": 2.7, "k": "Stadial"}, {"yr": 2017.7, "t": 4.2, "t2": -2.3, "k": "Modern"}]},
    "mark": {"type": "rule", "strokeWidth": 2},
    "encoding": {
     "x": {"field": "yr", "type": "quantitative"},
     "y": {"field": "t", "type": "quantitative", "axis": {"orient": "right", "values": [-3,0,3,6,9], "title": null, "labelFontSize": 10, "tickSize": 3, "labelPadding": 2, "domain": false}},
     "y2": {"field": "t2"},
     "color": {"field": "k", "type": "nominal", "scale": {"domain": ["Stadial","2015","Modern","A","init","phase","r30","o10","m30"], "range": ["#e8404f","#9a6aa6","#3db4e4","#333333","#8a8a8a","#17a05c","#e23a4e","#f2a24e","#d42a5c"]}, "legend": null}
    }},
   {"data": {"values": [{"yr": 2011.6, "t": 8.5, "yr2": 2015.0, "t2": 7.2, "k": "Stadial"}, {"yr": 2009.0, "t": 4.3, "yr2": 2013.4, "t2": 3.1, "k": "2015"}, {"yr": 2013.7, "t": -3.2, "yr2": 2017.3, "t2": 0.2, "k": "Modern"}]},
    "mark": {"type": "rule", "strokeWidth": 1},
    "encoding": {
     "x": {"field": "yr", "type": "quantitative"},
     "x2": {"field": "yr2"},
     "y": {"field": "t", "type": "quantitative", "axis": null},
     "y2": {"field": "t2"},
     "color": {"field": "k", "type": "nominal", "scale": {"domain": ["Stadial","2015","Modern","A","init","phase","r30","o10","m30"], "range": ["#e8404f","#9a6aa6","#3db4e4","#333333","#8a8a8a","#17a05c","#e23a4e","#f2a24e","#d42a5c"]}, "legend": null}
    }},
   {"data": {"values": [{"yr": 2013.1, "t": 9.67, "k": "Stadial", "label": "Stadial BWT fluctuation"}, {"yr": 2013.7, "t": 5.83, "k": "2015", "label": "2015 BWT (May to Oct)"}]},
    "mark": {"type": "text", "align": "right", "baseline": "middle", "fontSize": 10},
    "encoding": {
     "x": {"field": "yr", "type": "quantitative"},
     "y": {"field": "t", "type": "quantitative", "axis": null},
     "text": {"field": "label"},
     "color": {"field": "k", "type": "nominal", "scale": {"domain": ["Stadial","2015","Modern","A","init","phase","r30","o10","m30"], "range": ["#e8404f","#9a6aa6","#3db4e4","#333333","#8a8a8a","#17a05c","#e23a4e","#f2a24e","#d42a5c"]}, "legend": null}
    }},
   {"data": {"values": [{"yr": 2006.3, "t": -4.1, "k": "Modern", "label": "Modern BWT fluctuation"}]},
    "mark": {"type": "text", "align": "center", "baseline": "middle", "fontSize": 10},
    "encoding": {
     "x": {"field": "yr", "type": "quantitative"},
     "y": {"field": "t", "type": "quantitative", "axis": null},
     "text": {"field": "label"},
     "color": {"field": "k", "type": "nominal", "scale": {"domain": ["Stadial","2015","Modern","A","init","phase","r30","o10","m30"], "range": ["#e8404f","#9a6aa6","#3db4e4","#333333","#8a8a8a","#17a05c","#e23a4e","#f2a24e","#d42a5c"]}, "legend": null}
    }},
   {"data": {"values": [{"yr": 1920.9, "t": 8.9, "label": "(A)"}]},
    "mark": {"type": "text", "align": "left", "baseline": "middle", "fontSize": 11, "color": "#333"},
    "encoding": {
     "x": {"field": "yr", "type": "quantitative"},
     "y": {"field": "t", "type": "quantitative", "axis": null},
     "text": {"field": "label"}
    }}
  ],
  "resolve": {"axis": {"y": "independent"}}
 },
 {
  "bounds": "flush",
  "spacing": 71,
  "hconcat": [
   {
    "width": 227, "height": 295,
    "title": {"text": "(B) Modern scenario with cold bottom water", "fontSize": 13, "offset": 10},
    "layer": [
     {"data": {"name": "lineB"},
      "mark": {"type": "line"},
      "encoding": {
       "x": {"field": "temp", "type": "quantitative", "scale": {"domain": [0, 9], "nice": false},
         "axis": {"values": [0,2,4,6,8], "title": "Bottom seawater temperature (°C)", "titleFontSize": 13, "labelFontSize": 11, "tickSize": 5, "labelPadding": 3, "titlePadding": 13, "domain": false}},
       "y": {"field": "depth", "type": "quantitative", "scale": {"domain": [0, 60], "reverse": true, "nice": false},
         "axis": {"values": [0,10,20,30,40,50,60], "title": "Depth (mbsf)", "titleFontSize": 14, "labelFontSize": 11, "tickSize": 5, "labelPadding": 3, "titlePadding": 14, "domain": false}},
       "color": {"field": "s", "type": "nominal", "scale": {"domain": ["Stadial","2015","Modern","A","init","phase","r30","o10","m30"], "range": ["#e8404f","#9a6aa6","#3db4e4","#333333","#8a8a8a","#17a05c","#e23a4e","#f2a24e","#d42a5c"]}, "legend": null},
       "strokeDash": {"field": "s", "type": "nominal", "scale": {"domain": ["init", "phase", "r30", "o10", "m30"], "range": [[1,0],[1,0],[9,3,2,3],[9,3,2,3],[9,3,2,3]]}, "legend": null},
       "strokeWidth": {"field": "s", "type": "nominal", "scale": {"domain": ["init", "phase", "r30", "o10", "m30"], "range": [1.5, 2.2, 2.2, 2.2, 2.2]}, "legend": null},
       "order": {"field": "o", "type": "quantitative"}
      }},
     {"data": {"values": [{"temp": 0.44, "depth": 14.4, "temp2": 1.19, "depth2": 2.2}]},
      "mark": {"type": "rule", "color": "#8a8a8a", "strokeWidth": 0.8},
      "encoding": {"x": {"field": "temp", "type": "quantitative"}, "x2": {"field": "temp2"}, "y": {"field": "depth", "type": "quantitative"}, "y2": {"field": "depth2"}}},
     {"data": {"values": [{"temp": 1.19, "depth": 2.2}]},
      "mark": {"type": "point", "shape": "triangle-up", "filled": true, "size": 14, "angle": 18, "color": "#8a8a8a", "opacity": 1},
      "encoding": {"x": {"field": "temp", "type": "quantitative"}, "y": {"field": "depth", "type": "quantitative"}}},
     {"data": {"values": [{"temp": 0.99, "depth": 27.5, "label": "Initial sub-bottom temperature"}]},
      "mark": {"type": "text", "angle": 78, "align": "center", "baseline": "middle", "fontSize": 9, "color": "#808080"},
      "encoding": {"x": {"field": "temp", "type": "quantitative"}, "y": {"field": "depth", "type": "quantitative"}, "text": {"field": "label"}}},
     {"data": {"values": [{"temp": 2.4, "depth": 33.2, "label": "Sub-bottom temperature after 30 years"}]},
      "mark": {"type": "text", "angle": 77, "align": "center", "baseline": "middle", "fontSize": 9, "color": "#e23a4e"},
      "encoding": {"x": {"field": "temp", "type": "quantitative"}, "y": {"field": "depth", "type": "quantitative"}, "text": {"field": "label"}}},
     {"data": {"values": [{"temp": 3.75, "depth": 12.2, "label": ["Phase boundary for sI type", "gas hydrate under 379 m water depth"]}]},
      "mark": {"type": "text", "angle": 84, "align": "left", "baseline": "middle", "fontSize": 9.5, "lineHeight": 12, "color": "#17a05c"},
      "encoding": {"x": {"field": "temp", "type": "quantitative"}, "y": {"field": "depth", "type": "quantitative"}, "text": {"field": "label"}}}
    ]
   },
   {
    "width": 227, "height": 295,
    "title": {"text": "(C) Stadial scenario with warm bottom water", "fontSize": 13, "offset": 10, "dx": -12},
    "layer": [
     {"data": {"name": "lineC"},
      "mark": {"type": "line"},
      "encoding": {
       "x": {"field": "temp", "type": "quantitative", "scale": {"domain": [0, 9], "nice": false},
         "axis": {"values": [0,2,4,6,8], "title": "Bottom seawater temperature (°C)", "titleFontSize": 13, "labelFontSize": 11, "tickSize": 5, "labelPadding": 3, "titlePadding": 13, "domain": false}},
       "y": {"field": "depth", "type": "quantitative", "scale": {"domain": [0, 60], "reverse": true, "nice": false},
         "axis": {"values": [0,10,20,30,40,50,60], "title": "Depth (mbsf)", "titleFontSize": 14, "labelFontSize": 11, "tickSize": 5, "labelPadding": 3, "titlePadding": 14, "domain": false}},
       "color": {"field": "s", "type": "nominal", "scale": {"domain": ["Stadial","2015","Modern","A","init","phase","r30","o10","m30"], "range": ["#e8404f","#9a6aa6","#3db4e4","#333333","#8a8a8a","#17a05c","#e23a4e","#f2a24e","#d42a5c"]}, "legend": null},
       "strokeDash": {"field": "s", "type": "nominal", "scale": {"domain": ["init", "phase", "r30", "o10", "m30"], "range": [[1,0],[1,0],[9,3,2,3],[9,3,2,3],[9,3,2,3]]}, "legend": null},
       "strokeWidth": {"field": "s", "type": "nominal", "scale": {"domain": ["init", "phase", "r30", "o10", "m30"], "range": [1.5, 2.2, 2.2, 2.2, 2.2]}, "legend": null},
       "order": {"field": "o", "type": "quantitative"}
      }},
     {"data": {"values": [{"temp": 3.02, "depth": 1.6, "label": "Phase boundary"}]},
      "mark": {"type": "text", "angle": 82, "align": "left", "baseline": "middle", "fontSize": 9.5, "color": "#17a05c"},
      "encoding": {"x": {"field": "temp", "type": "quantitative"}, "y": {"field": "depth", "type": "quantitative"}, "text": {"field": "label"}}},
     {"data": {"values": [{"temp": 1.31, "depth": 11.4, "label": "Initial sub-bottom temperature"}]},
      "mark": {"type": "text", "angle": 77, "align": "left", "baseline": "middle", "fontSize": 9, "color": "#808080"},
      "encoding": {"x": {"field": "temp", "type": "quantitative"}, "y": {"field": "depth", "type": "quantitative"}, "text": {"field": "label"}}},
     {"data": {"values": [{"temp": 4.62, "depth": 28.5, "label": ["Sub-bottom temperature", "after 10 years"]}]},
      "mark": {"type": "text", "angle": 88, "align": "left", "baseline": "middle", "fontSize": 9.5, "lineHeight": 12, "color": "#f2a24e"},
      "encoding": {"x": {"field": "temp", "type": "quantitative"}, "y": {"field": "depth", "type": "quantitative"}, "text": {"field": "label"}}},
     {"data": {"values": [{"temp": 6.35, "depth": 36.8, "label": ["Sub-bottom temperature", "after 30 years"]}]},
      "mark": {"type": "text", "angle": 87, "align": "left", "baseline": "middle", "fontSize": 9.5, "lineHeight": 12, "color": "#d42a5c"},
      "encoding": {"x": {"field": "temp", "type": "quantitative"}, "y": {"field": "depth", "type": "quantitative"}, "text": {"field": "label"}}}
    ]
   }
  ]
 }
]
}
